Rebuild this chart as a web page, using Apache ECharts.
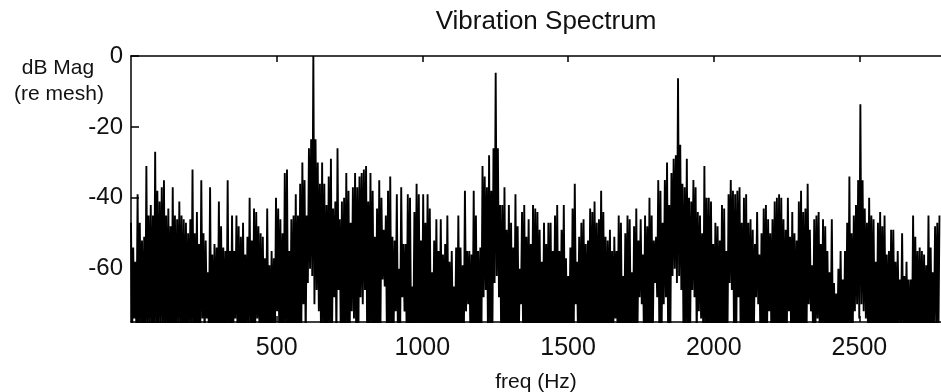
<!DOCTYPE html>
<html>
<head>
<meta charset="utf-8">
<script src="https://cdn.jsdelivr.net/npm/echarts@6/dist/echarts.min.js"></script>
<style>
html,body{margin:0;padding:0;background:#fff;}
#chart{width:941px;height:392px;}
</style>
</head>
<body>
<div id="chart"></div>
<script>
// Frequency resolution of the spectrum (Hz between successive spectral peaks)
const freqStep = 7.54;

// Spectral peak tops (dB), read left to right
const topsA = [-47,-54,-58,-39,-47,-52,-51,-31,-45,-42, -45,-27,-38,-41,-37,-35,-45,-43,-48,-37,
  -45,-46,-41,-45,-46,-47,-50,-46,-32,-50, -44,-53,-35,-50,-52,-61,-37,-56,-53,-54,
  -41,-48,-54,-55,-35,-55,-45,-55,-45,-48, -51,-47,-56,-51,-40,-52,-43,-44,-48,-50, -51];
const topsB = [-57,-43,-59,-55,-57,-40,-43,-46,-50,-33, -32,-55,-46,-45,-39,-45,-36,-30,-35,-45,
  -26,-23.5, 0, -23.5,-30,-36,-30,-36,-42,-34,-29,-43, -41,-26,-46,-41,-40,-33,-38,-47,-37,-33,
  -37,-34,-33,-32,-31,-41,-33,-38,-51,-43, -35,-40,-49,-45,-38,-34,-51,-52,-39,-60];
const topsC = [-37,-53,-53,-39,-40,-65,-44,-36,-39,-52, -39,-47,-39,-43,-61,-52,-46,-55,-46,-56,
  -53,-45,-58,-55,-65,-54,-45,-54,-59,-38, -55,-55,-56,-38,-45,-55,-54,-31,-34,-37,
  -28,-38,-26, -4.7, -26,-42,-42,-37,-49,-42,-47,-54,-39,-48, -60,-44,-42,-51,-46,-53,-42,-43];
const topsD = [-44,-49,-58,-47,-53,-47,-47,-55,-45,-42, -55,-49,-42,-57,-62,-54,-43,-36,-58,-51,
  -47,-46,-53,-52,-43,-44,-41,-47,-46,-38, -44,-51,-52,-49,-55,-51,-55,-45,-47,-62,
  -50,-45,-46,-61,-48,-43,-52,-46,-56,-45, -48,-40,-45,-52,-51,-35,-38,-47,-35,-30, -42];
const topsE = [-33,-29,-28, -6.3, -25,-36,-37,-29,-40,-41,-35,-37,-44,
  -45,-50,-31,-40,-40,-41,-53,-47,-48,-52, -42,-43,-55,-39,-35,-38,-39,-38,-37,-47,
  -40,-39,-47,-46,-49,-53,-44,-56,-50,-43, -42,-46,-50,-46,-41,-40,-39,-40,-46,-49,
  -40,-51,-44,-50,-52,-41,-38,-44,-43];
const topsF = [-36,-49,-59,-46,-45,-44,-53,-46,-48,-55, -61,-46,-64,-67,-60,-55,-63,-55,-47,-34,
  -50,-45,-42,-35, -13.6, -35,-43,-47,-40,-45,-46,-58,-47,-44,-48,
  -45,-56,-55,-49,-49,-58,-55,-63,-50,-62, -58,-63,-63,-45,-51,-55,-54,-55,-56,-59,
  -45,-54,-61,-48,-47,-45];

// Troughs (dB) between successive tops
const lowsA = [-80,-74,-80,-80,-76,-80,-80,-80,-76,-80, -80,-80,-80,-76,-80,-80,-80,-80,-80,-80,
  -80,-76,-80,-80,-80,-80,-76,-80,-80,-80, -80,-80,-74,-80,-74,-80,-80,-80,-80,-80,
  -80,-80,-76,-80,-80,-80,-80,-74,-80,-80, -80,-80,-80,-76,-80,-80,-80,-74,-80,-80, -80];
const lowsB = [-80,-80,-80,-80,-80,-72,-80,-80,-80,-80, -80,-80,-80,-80,-80,-80,-80,-70,-80,-64,
  -60,-62,-70,-66,-72,-80,-80,-80,-80,-80, -80,-68,-80,-66,-80,-80,-80,-80,-80,-72,
  -74,-80,-80,-68,-70,-66,-80,-80,-80,-80, -80,-80,-80,-63,-65,-80,-80,-80,-80,-72, -80,-80];
const lowsC = [-68,-72,-80,-80,-80,-80,-80,-80,-80,-80, -80,-80,-80,-80,-80,-80,-80,-80,-80,-80,
  -80,-80,-80,-80,-80,-80,-80,-80,-80,-72, -70,-80,-80,-80,-80,-80,-80,-68,-66,-80,
  -80,-80,-64,-62,-68,-80,-80,-80,-80,-80, -80,-80,-80,-80,-70,-80,-80,-80,-80,-80, -80,-80];
const lowsD = [-80,-80,-80,-80,-80,-80,-80,-80,-80,-80, -80,-80,-80,-80,-80,-80,-80,-70,-80,-80,
  -80,-80,-80,-80,-80,-80,-80,-80,-80,-80, -80,-80,-80,-80,-80,-74,-80,-80,-80,-80,
  -80,-80,-80,-80,-80,-80,-68,-70,-80,-80, -80,-80,-80,-64,-68,-80,-80,-70,-68,-80, -80];
const lowsE = [-62,-60,-64,-62,-66,-80,-80,-80,-80,-66, -68,-80,-72,-74,-80,-80,-80,-80,-80,-80,
  -80,-80,-80,-80,-80,-80,-64,-66,-80,-80, -68,-80,-80,-80,-80,-80,-80,-80,-68,-70,
  -80,-80,-80,-80,-72,-80,-80,-80,-80,-80, -80,-80,-80,-72,-80,-80,-80,-80,-80,-80, -80,-80];
const lowsF = [-70,-72,-80,-80,-74,-80,-80,-80,-80,-80, -80,-80,-80,-80,-80,-80,-80,-80,-80,-80,
  -80,-72,-70,-74,-70,-72,-74,-80,-80,-80, -80,-80,-80,-80,-80,-80,-80,-80,-80,-80,
  -80,-76,-76,-80,-80,-80,-80,-80,-80,-80, -80,-80,-80,-80,-80,-80,-80,-76,-76,-80];

const xTicks = [500, 1000, 1500, 2000, 2500];
const yTicks = [0, -20, -40, -60];

const tops = [].concat(topsA, topsB, topsC, topsD, topsE, topsF);
const lows = [].concat(lowsA, lowsB, lowsC, lowsD, lowsE, lowsF);
const data = [];
for (let i = 0; i < tops.length; i++) {
  data.push([i * freqStep, tops[i]]);
  if (i < lows.length) data.push([(i + 0.5) * freqStep, lows[i]]);
}

const FONT = '"Liberation Sans", Arial, Helvetica, sans-serif';
const chart = echarts.init(document.getElementById('chart'), null, {renderer: 'canvas'});
const axisCol = '#000';
chart.setOption({
  animation: false,
  backgroundColor: '#fff',
  grid: {left: 131, top: 56, right: 0, bottom: 70, containLabel: false, outerBoundsMode: 'none'},
  xAxis: [{
    type: 'value', min: 0, max: 2780, position: 'bottom',
    axisLine: {show: true, onZero: false, lineStyle: {color: axisCol, width: 1.5}},
    axisTick: {show: true, inside: true, length: 6, customValues: xTicks, lineStyle: {color: axisCol, width: 1.5}},
    axisLabel: {show: true, customValues: xTicks, formatter: function (v) { return String(v); },
      color: '#111', fontFamily: FONT, fontSize: 25, margin: 14},
    splitLine: {show: false},
    name: 'freq (Hz)', nameLocation: 'middle', nameGap: 50,
    nameTextStyle: {color: '#111', fontFamily: FONT, fontSize: 21}
  }, {
    type: 'value', min: 0, max: 2780, position: 'top',
    axisLine: {show: true, onZero: false, lineStyle: {color: axisCol, width: 1.5}},
    axisTick: {show: true, inside: true, length: 6, customValues: xTicks, lineStyle: {color: axisCol, width: 1.5}},
    axisLabel: {show: false},
    splitLine: {show: false}
  }],
  yAxis: {
    type: 'value', min: -75, max: 0,
    axisLine: {show: true, onZero: false, lineStyle: {color: axisCol, width: 1.5}},
    axisTick: {show: true, inside: true, length: 8, customValues: yTicks, lineStyle: {color: axisCol, width: 1.5}},
    axisLabel: {show: true, customValues: yTicks, formatter: function (v) { return String(v); },
      color: '#111', fontFamily: FONT, fontSize: 24, margin: 8, padding: [4, 0, 0, 0]},
    splitLine: {show: false}
  },
  graphic: [
    {type: 'text', style: {x: 546, y: 22, text: 'Vibration Spectrum', fill: '#111',
      font: '26px ' + FONT, textAlign: 'center', textVerticalAlign: 'middle'}},
    {type: 'text', style: {x: 58, y: 68, text: 'dB Mag', fill: '#111',
      font: '21px ' + FONT, textAlign: 'center', textVerticalAlign: 'middle'}},
    {type: 'text', style: {x: 59, y: 94, text: '(re mesh)', fill: '#111',
      font: '21px ' + FONT, textAlign: 'center', textVerticalAlign: 'middle'}}
  ],
  series: [{
    type: 'line', xAxisIndex: 0, data: data, symbol: 'none', showSymbol: false, clip: true,
    lineStyle: {color: '#000', width: 1.9}, silent: true
  }]
});
</script>
</body>
</html>
